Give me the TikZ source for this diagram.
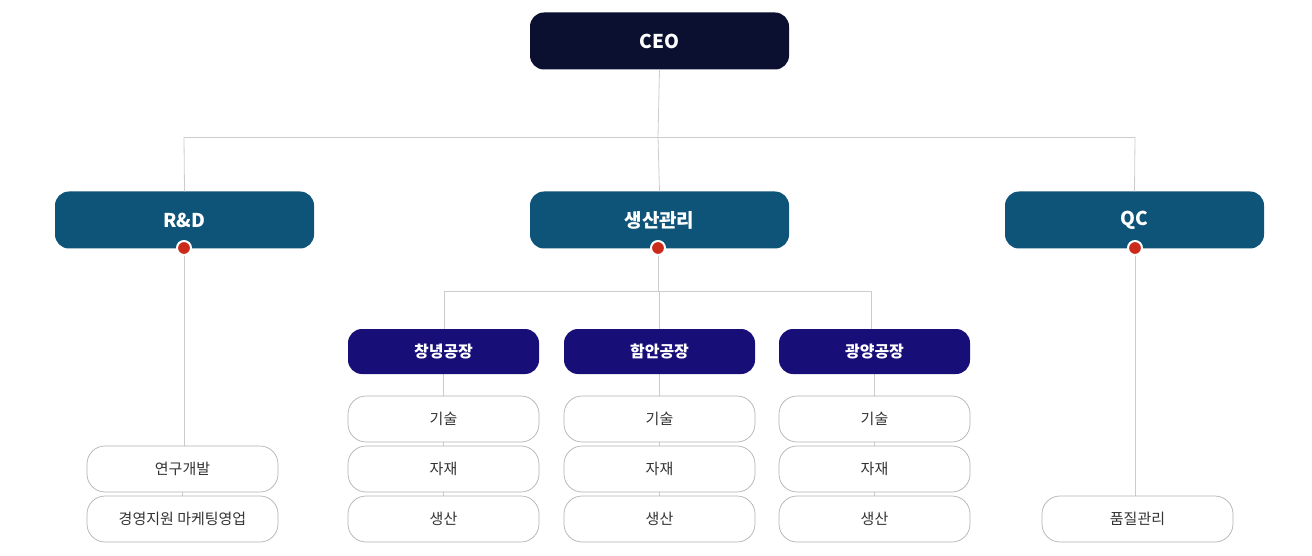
\documentclass[tikz,border=0pt]{standalone}
\usepackage{fontspec}
\setmainfont{Noto Sans CJK KR}
\begin{document}
\begin{tikzpicture}[x=1pt,y=-1pt,
 ln/.style={draw=black!20,line width=0.8pt},
 hd/.style={rounded corners=14pt,minimum width=259pt,minimum height=57pt,text=white,font=\fontsize{19}{22}\selectfont\bfseries,inner sep=0pt},
 fac/.style={rounded corners=14pt,fill=fac,minimum width=191pt,minimum height=45pt,text=white,font=\fontsize{16}{19}\selectfont\bfseries,inner sep=0pt},
 sub/.style={rounded corners=18pt,draw=black!30,fill=white,line width=0.7pt,minimum width=191pt,minimum height=46pt,font=\fontsize{15}{18}\selectfont,text=black!80,inner sep=0pt},
 dot/.style={circle,fill=dotc,draw=white,line width=2pt,minimum size=14pt,inner sep=0pt}]
\definecolor{ceo}{HTML}{0B0F30}
\definecolor{dep}{HTML}{0E5378}
\definecolor{fac}{HTML}{170E78}
\definecolor{dotc}{HTML}{CC2A1A}
\useasboundingbox (0,0) rectangle (1312,556);
% lines
\coordinate (j0) at (658,137);
\coordinate (jl) at (184,137);
\coordinate (jr) at (1135,137);
\coordinate (k0) at (658,291);
\coordinate (kl) at (444,291);
\coordinate (km) at (659,291);
\coordinate (kr) at (871,291);
\node[hd,fill=ceo] (ceo) at (659.5,41) {CEO};
\node[hd,fill=dep] (rd) at (184.5,220) {R\&D};
\node[hd,fill=dep] (pm) at (659.5,220) {생산관리};
\node[hd,fill=dep] (qc) at (1134.5,220) {QC};
\begin{scope}[on background layer/.try]
\end{scope}
\draw[ln] (ceo.south) -- (j0);
\draw[ln] (jl) -- (jr);
\draw[ln] (jl) -- (rd.north);
\draw[ln] (j0) -- (pm.north);
\draw[ln] (jr) -- (qc.north);
\draw[ln] (184,248) -- (184,446);
\draw[ln] (1135,248) -- (1135,496);
\draw[ln] (658,248) -- (k0);
\draw[ln] (kl) -- (kr);
\draw[ln] (kl) -- (444,329);
\draw[ln] (km) -- (659,329);
\draw[ln] (kr) -- (871,329);
\foreach \x in {443.5,659.5,874.5}{\draw[ln] (\x,374) -- (\x,520);}
\draw[ln] (182.5,470) -- (182.5,520);
\node[dot] (d1) at (184,248) {};
\node[dot] (d2) at (658,248) {};
\node[dot] (d3) at (1135,248) {};
\node[fac] (f1) at (443.5,351.5) {창녕공장};
\node[fac] (f2) at (659.5,351.5) {함안공장};
\node[fac] (f3) at (874.5,351.5) {광양공장};
\foreach \x/\n in {443.5/a,659.5/b,874.5/c}{
 \node[sub] (\n1) at (\x,419) {기술};
 \node[sub] (\n2) at (\x,469) {자재};
 \node[sub] (\n3) at (\x,519) {생산};
}
\node[sub] (r1) at (182.5,469) {연구개발};
\node[sub] (r2) at (182.5,519) {경영지원 마케팅영업};
\node[sub] (q1) at (1137.5,519) {품질관리};
\end{tikzpicture}
\end{document}
